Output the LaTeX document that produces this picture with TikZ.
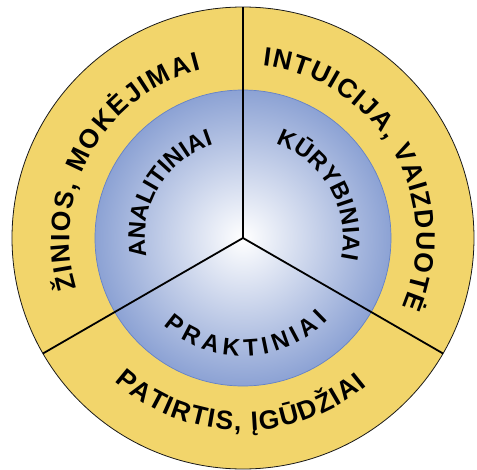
\documentclass[tikz,border=0pt]{standalone}
\usepackage{fontspec}
\setmainfont{Liberation Sans}
\usetikzlibrary{decorations.text}
\definecolor{CRyellow}{RGB}{242,213,107}
\definecolor{CRblue}{RGB}{140,162,212}
\definecolor{CRblueline}{RGB}{100,130,200}
\definecolor{CRink}{RGB}{25,25,25}
\newcommand{\ringfont}{\fontsize{26.5pt}{28pt}\selectfont\bfseries}
\newcommand{\discfont}{\fontsize{24pt}{26pt}\selectfont\bfseries}
\tikzset{
  ring/.style={fill=CRyellow,draw=CRink,line width=0.8pt},
  disc/.style={inner color=white,outer color=CRblue,draw=CRblueline,line width=0.7pt},
  divider/.style={draw=black,line width=1.8pt},
  arclabel/.style={decorate,decoration={text along path,text align={fit to path},text={#1}}}
}
\begin{document}
\begin{tikzpicture}
  \useasboundingbox (-243pt,-231pt) rectangle (234pt,238pt);
  \coordinate (c) at (0,0);
  \coordinate (rimN) at (90:231pt);
  \coordinate (rimSW) at (210:231pt);
  \coordinate (rimSE) at (330:231pt);
  \path[ring] (c) circle[radius=231pt];
  \path[disc] (c) circle[radius=148pt];
  \draw[divider] (c) -- (rimN);
  \draw[divider] (c) -- (rimSW);
  \draw[divider] (c) -- (rimSE);
  \path[arclabel={|\ringfont|ŽINIOS, MOKĖJIMAI}]
    (197:173.5pt) arc[start angle=197,end angle=104,radius=173.5pt];
  \path[arclabel={|\ringfont|INTUICIJA, VAIZDUOTĖ}]
    (83.5:173.5pt) arc[start angle=83.5,end angle=-23.5,radius=173.5pt];
  \path[arclabel={|\ringfont|PATIRTIS, ĮGŪDŽIAI}]
    (228:192.5pt) arc[start angle=228,end angle=310,radius=192.5pt];
  \path[arclabel={|\discfont|ANALITINIAI}]
    (191:98pt) arc[start angle=191,end angle=109,radius=98pt];
  \path[arclabel={|\discfont|KŪRYBINIAI}]
    (71:100pt) arc[start angle=71,end angle=-12,radius=100pt];
  \path[arclabel={|\discfont|PRAKTINIAI}]
    (228:118pt) arc[start angle=228,end angle=316,radius=118pt];
\end{tikzpicture}
\end{document}
